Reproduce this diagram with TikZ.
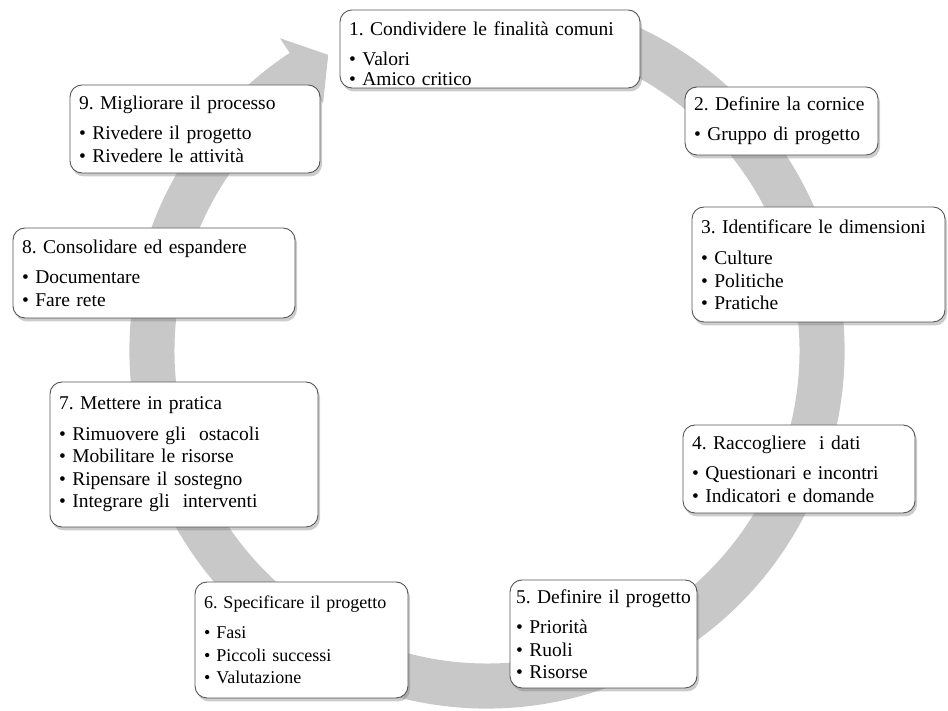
\documentclass[tikz,border=0pt]{standalone}
\usepackage{fontspec}
\setmainfont{Liberation Serif}
\usetikzlibrary{calc,shadows}
\definecolor{ringgray}{RGB}{200,200,200}
\definecolor{boxline}{RGB}{85,85,85}
% one unbreakable line of a step box
\newcommand{\stepln}[1]{\mbox{#1}}
\tikzset{
  stepbox/.style={draw=boxline, line width=0.9pt, fill=white, rounded corners=12pt,
    drop shadow={shadow xshift=2pt, shadow yshift=-3.5pt, opacity=0.4},
    inner xsep=9pt, inner ysep=3pt, align=left,
    font=\fontsize{19.5}{22.5}\selectfont\frenchspacing},
  ring/.style={fill=ringgray, draw=none}
}
\begin{document}
\begin{tikzpicture}[x=1pt, y=1pt]
\useasboundingbox (0,0) rectangle (948,711);

% circular arrow behind the steps
\coordinate (c) at (487,360);
\fill[ring] ($(c)+(68:357.5pt)$)
  arc[start angle=68, end angle=-236.5, radius=357.5pt]
  -- ($(c)+(123.5:375pt)$)
  -- ($(c)+(118.2:336pt)$)
  -- ($(c)+(123.5:297pt)$)
  -- ($(c)+(123.5:312.5pt)$)
  arc[start angle=-236.5, end angle=68, radius=312.5pt]
  -- cycle;

% the nine steps
\node[stepbox, inner ysep=0pt, minimum width=300pt, minimum height=78pt, text width=282pt,
      font=\fontsize{19.5}{20}\selectfont\frenchspacing] (s1) at (490,662)
  {\stepln{\rule{0pt}{24pt}1. Condividere le finalità comuni}\\[10pt]\stepln{• Valori}\\\stepln{• Amico critico}};
\node[stepbox, minimum width=193pt, minimum height=68pt, text width=175pt] (s2) at (781.5,590)
  {\stepln{2. Definire la cornice}\\[8pt]\stepln{• Gruppo di progetto}};
\node[stepbox, minimum width=253pt, minimum height=115pt, text width=235pt] (s3) at (818.5,446.5)
  {\stepln{3. Identificare le dimensioni}\\[9pt]\stepln{• Culture}\\\stepln{• Politiche}\\\stepln{• Pratiche}};
\node[stepbox, minimum width=232pt, minimum height=88pt, text width=214pt] (s4) at (799,242)
  {\stepln{4. Raccogliere\ \ i dati}\\[8pt]\stepln{• Questionari e incontri}\\\stepln{• Indicatori e domande}};
\node[stepbox, inner xsep=6pt, minimum width=187pt, minimum height=108pt, text width=175pt] (s5) at (603.5,77)
  {\stepln{5. Definire il progetto}\\[8pt]\stepln{• Priorità}\\\stepln{• Ruoli}\\\stepln{• Risorse}};
\node[stepbox, minimum width=213pt, minimum height=116pt, text width=195pt,
      font=\fontsize{18}{22.5}\selectfont\frenchspacing] (s6) at (301.5,71)
  {\stepln{6. Specificare il progetto}\\[8pt]\stepln{• Fasi}\\\stepln{• Piccoli successi}\\\stepln{• Valutazione}};
\node[stepbox, minimum width=268pt, minimum height=145pt, text width=250pt] (s7) at (184,256.5)
  {\stepln{7. Mettere in pratica}\\[8pt]\stepln{• Rimuovere gli\ \ ostacoli}\\\stepln{• Mobilitare le risorse}\\\stepln{• Ripensare il sostegno}\\\stepln{• Integrare gli\ \ interventi}};
\node[stepbox, minimum width=282pt, minimum height=90pt, text width=264pt] (s8) at (154,438)
  {\stepln{8. Consolidare ed espandere}\\[8pt]\stepln{• Documentare}\\\stepln{• Fare rete}};
\node[stepbox, minimum width=250pt, minimum height=88pt, text width=232pt] (s9) at (195,582)
  {\stepln{9. Migliorare il processo}\\[8pt]\stepln{• Rivedere il progetto}\\\stepln{• Rivedere le attività}};
\end{tikzpicture}
\end{document}
